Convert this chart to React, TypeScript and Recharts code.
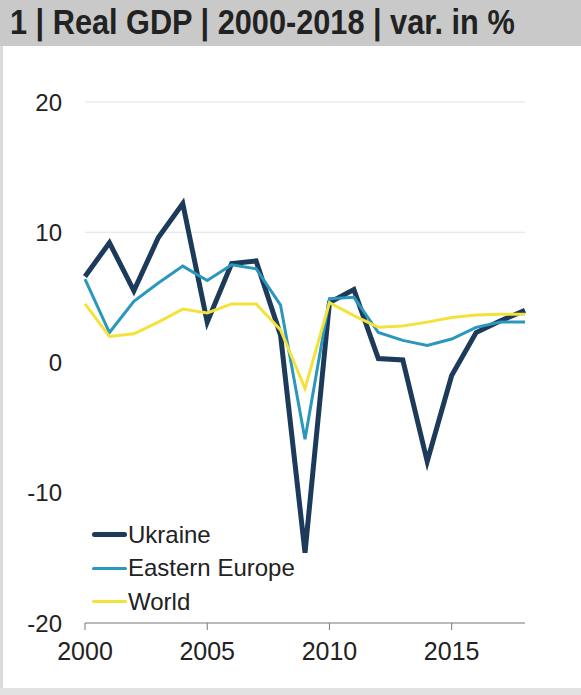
import { LineChart, Line, XAxis, YAxis, ReferenceLine, Legend } from "recharts";

const years = [
  2000, 2001, 2002, 2003, 2004, 2005, 2006, 2007, 2008, 2009, 2010, 2011, 2012,
  2013, 2014, 2015, 2016, 2017, 2018,
];
const ukraine = [
  6.6, 9.2, 5.5, 9.6, 12.2, 3.1, 7.6, 7.8, 2.1, -14.6, 4.6, 5.6, 0.3, 0.2,
  -7.6, -1.0, 2.3, 3.2, 4.0,
];
const easternEurope = [
  6.4, 2.3, 4.7, 6.1, 7.4, 6.3, 7.5, 7.2, 4.4, -5.9, 4.9, 5.0, 2.3, 1.7, 1.3,
  1.8, 2.7, 3.1, 3.1,
];
const world = [
  4.5, 2.0, 2.2, 3.1, 4.1, 3.8, 4.5, 4.5, 2.5, -2.0, 4.6, 3.6, 2.7, 2.8, 3.1,
  3.45, 3.65, 3.7, 3.7,
];
const xTicks = [2000, 2005, 2010, 2015];
const yTicks = [-20, -10, 0, 10, 20];
const gridValues = [10, 20];
const title = "1 | Real GDP | 2000-2018 | var. in %";

const FONT = '"Liberation Sans", Arial, sans-serif';

// one entry per line, in drawing order
const series = [
  { key: "ukraine", name: "Ukraine", color: "#1c3a5a", width: 5 },
  { key: "easternEurope", name: "Eastern Europe", color: "#2b97bd", width: 3 },
  { key: "world", name: "World", color: "#f3e23a", width: 3 },
];

const data = years.map((year, i) => ({
  year,
  ukraine: ukraine[i],
  easternEurope: easternEurope[i],
  world: world[i],
}));

function LegendBox() {
  return (
    <div style={{ fontFamily: FONT, fontSize: 24, color: "#222" }}>
      {series.map((s) => (
        <div
          key={s.key}
          style={{ display: "flex", alignItems: "center", height: 33.5 }}
        >
          <span
            style={{
              display: "inline-block",
              width: 35,
              height: s.width,
              borderRadius: s.width / 2,
              background: s.color,
              marginRight: 1,
            }}
          />
          <span>{s.name}</span>
        </div>
      ))}
    </div>
  );
}

export default function App() {
  return (
    <div
      style={{
        position: "absolute",
        left: 0,
        top: 0,
        width: 581,
        height: 695,
        background: "#fff",
        overflow: "hidden",
      }}
    >
      <LineChart
        width={581}
        height={695}
        data={data}
        margin={{ top: 102, right: 56, bottom: 22, left: 25 }}
      >
        {gridValues.map((v) => (
          <ReferenceLine key={v} y={v} stroke="#e2e2e2" strokeWidth={1} />
        ))}
        <XAxis
          dataKey="year"
          type="number"
          domain={[2000, 2018]}
          ticks={xTicks}
          height={50}
          tickSize={7}
          tickMargin={12}
          axisLine={{ stroke: "#777" }}
          tickLine={{ stroke: "#777" }}
          tick={{ fill: "#222", fontSize: 25, fontFamily: FONT }}
        />
        <YAxis
          type="number"
          domain={[-20, 20]}
          ticks={yTicks}
          width={60}
          axisLine={false}
          tickLine={false}
          tickSize={0}
          tickMargin={23}
          tick={{ fill: "#222", fontSize: 24, fontFamily: FONT }}
        />
        {series.map((s) => (
          <Line
            key={s.key}
            dataKey={s.key}
            name={s.name}
            stroke={s.color}
            strokeWidth={s.width}
            strokeLinejoin="miter"
            dot={false}
            activeDot={false}
            isAnimationActive={false}
          />
        ))}
        <Legend
          layout="horizontal"
          verticalAlign="middle"
          align="center"
          content={() => <LegendBox />}
          wrapperStyle={{
            position: "absolute",
            left: 92,
            top: 518,
            width: "auto",
          }}
        />
      </LineChart>
      <div
        style={{
          position: "absolute",
          left: 0,
          top: 0,
          width: 581,
          height: 46,
          background: "#c9c9c9",
        }}
      >
        <div
          style={{
            position: "absolute",
            left: 10,
            top: 2,
            fontFamily: FONT,
            fontWeight: "bold",
            fontSize: 35,
            lineHeight: "40px",
            color: "#222",
            whiteSpace: "nowrap",
            transform: "scaleX(0.877)",
            transformOrigin: "left top",
          }}
        >
          {title}
        </div>
      </div>
      <div
        style={{
          position: "absolute",
          left: 0,
          top: 46,
          width: 3,
          height: 649,
          background: "#dcdcdc",
        }}
      />
      <div
        style={{
          position: "absolute",
          left: 0,
          top: 688,
          width: 581,
          height: 7,
          background: "#e2e2e2",
        }}
      />
    </div>
  );
}
